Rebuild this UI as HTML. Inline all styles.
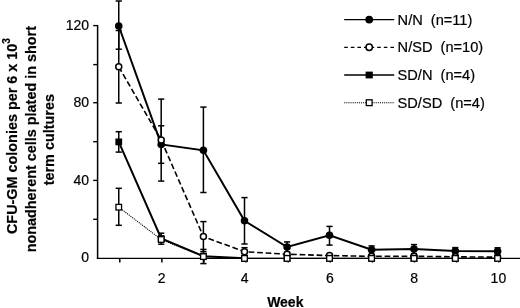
<!DOCTYPE html>
<html><head><meta charset="utf-8"><style>
html,body{margin:0;padding:0;background:#fff;}
body{width:520px;height:308px;overflow:hidden;}
svg{display:block;filter:grayscale(1);}
text{font-family:"Liberation Sans",sans-serif;fill:#000;stroke:#000;stroke-width:0.2px;}
</style></head><body>
<svg width="520" height="308" viewBox="0 0 520 308">
<rect width="520" height="308" fill="#fff"/>

<line x1="97.6" y1="25" x2="97.6" y2="258.95" stroke="#000" stroke-width="1.5"/>
<line x1="96.85" y1="258.3" x2="520" y2="258.3" stroke="#000" stroke-width="1.3"/>
<line x1="93.2" y1="25.6" x2="98" y2="25.6" stroke="#000" stroke-width="1.4"/>
<line x1="93.2" y1="64.6" x2="98" y2="64.6" stroke="#000" stroke-width="1.4"/>
<line x1="93.2" y1="102.7" x2="98" y2="102.7" stroke="#000" stroke-width="1.4"/>
<line x1="93.2" y1="141.7" x2="98" y2="141.7" stroke="#000" stroke-width="1.4"/>
<line x1="93.2" y1="180.4" x2="98" y2="180.4" stroke="#000" stroke-width="1.4"/>
<line x1="93.2" y1="219.3" x2="98" y2="219.3" stroke="#000" stroke-width="1.4"/>
<line x1="119.80" y1="258.3" x2="119.80" y2="262.5" stroke="#000" stroke-width="1.5"/>
<line x1="161.90" y1="258.3" x2="161.90" y2="262.5" stroke="#000" stroke-width="1.5"/>
<line x1="204.00" y1="258.3" x2="204.00" y2="262.5" stroke="#000" stroke-width="1.5"/>
<line x1="246.10" y1="258.3" x2="246.10" y2="262.5" stroke="#000" stroke-width="1.5"/>
<line x1="288.20" y1="258.3" x2="288.20" y2="262.5" stroke="#000" stroke-width="1.5"/>
<line x1="330.30" y1="258.3" x2="330.30" y2="262.5" stroke="#000" stroke-width="1.5"/>
<line x1="372.40" y1="258.3" x2="372.40" y2="262.5" stroke="#000" stroke-width="1.5"/>
<line x1="414.50" y1="258.3" x2="414.50" y2="262.5" stroke="#000" stroke-width="1.5"/>
<line x1="456.60" y1="258.3" x2="456.60" y2="262.5" stroke="#000" stroke-width="1.5"/>
<line x1="498.70" y1="258.3" x2="498.70" y2="262.5" stroke="#000" stroke-width="1.5"/>
<text x="89" y="30.2" font-size="14" text-anchor="end">120</text>
<text x="89" y="107.3" font-size="14" text-anchor="end">80</text>
<text x="89" y="185.0" font-size="14" text-anchor="end">40</text>
<text x="89" y="262.4" font-size="14" text-anchor="end">0</text>
<text x="161.60" y="282.8" font-size="14" text-anchor="middle">2</text>
<text x="244.70" y="282.8" font-size="14" text-anchor="middle">4</text>
<text x="330.00" y="282.8" font-size="14" text-anchor="middle">6</text>
<text x="414.20" y="282.8" font-size="14" text-anchor="middle">8</text>
<text x="498.40" y="282.8" font-size="14" text-anchor="middle">10</text>
<text x="285.3" y="307.3" font-size="14" font-weight="bold" text-anchor="middle">Week</text>
<text transform="translate(16.8,136.1) rotate(-90)" font-size="14.4" font-weight="bold" text-anchor="middle">CFU-GM colonies per 6 x 10<tspan font-size="10" dy="-6.4">3</tspan></text>
<text transform="translate(36.0,139.2) rotate(-90)" font-size="14.4" font-weight="bold" text-anchor="middle">nonadherent cells plated in short</text>
<text transform="translate(54.3,139.7) rotate(-90)" font-size="14.4" font-weight="bold" text-anchor="middle">term cultures</text>
<polyline points="118.75,207.20 161.20,239.50 203.40,256.60 244.50,258.40" fill="none" stroke="#000" stroke-width="1.1" stroke-dasharray="1.1 1"/>
<polyline points="118.75,66.80 161.20,140.10 203.40,236.60 244.50,251.70 287.10,254.20 329.50,255.60 371.60,256.30 414.00,256.30 455.30,256.80 497.60,257.20" fill="none" stroke="#000" stroke-width="1.6" stroke-dasharray="5.7 2.8"/>
<polyline points="118.75,141.90 161.20,238.50 203.40,256.20 244.50,258.30" fill="none" stroke="#000" stroke-width="2"/>
<line x1="244.50" y1="258.3" x2="497.60" y2="258.3" stroke="#000" stroke-width="1.0"/>
<polyline points="118.75,26.00 161.20,144.40 203.40,150.30 244.50,220.80 287.10,247.00 329.50,235.30 371.60,249.80 414.00,249.10 455.30,251.00 497.60,251.30" fill="none" stroke="#000" stroke-width="2"/>
<line x1="118.75" y1="1.00" x2="118.75" y2="49.20" stroke="#000" stroke-width="1.5"/><line x1="115.65" y1="1.00" x2="121.85" y2="1.00" stroke="#000" stroke-width="1.5"/><line x1="115.65" y1="49.20" x2="121.85" y2="49.20" stroke="#000" stroke-width="1.5"/>
<line x1="161.20" y1="125.80" x2="161.20" y2="163.30" stroke="#000" stroke-width="1.5"/><line x1="158.10" y1="125.80" x2="164.30" y2="125.80" stroke="#000" stroke-width="1.5"/><line x1="158.10" y1="163.30" x2="164.30" y2="163.30" stroke="#000" stroke-width="1.5"/>
<line x1="203.40" y1="107.10" x2="203.40" y2="192.50" stroke="#000" stroke-width="1.5"/><line x1="200.30" y1="107.10" x2="206.50" y2="107.10" stroke="#000" stroke-width="1.5"/><line x1="200.30" y1="192.50" x2="206.50" y2="192.50" stroke="#000" stroke-width="1.5"/>
<line x1="244.50" y1="197.60" x2="244.50" y2="244.00" stroke="#000" stroke-width="1.5"/><line x1="241.40" y1="197.60" x2="247.60" y2="197.60" stroke="#000" stroke-width="1.5"/><line x1="241.40" y1="244.00" x2="247.60" y2="244.00" stroke="#000" stroke-width="1.5"/>
<line x1="287.10" y1="241.90" x2="287.10" y2="252.10" stroke="#000" stroke-width="1.5"/><line x1="284.00" y1="241.90" x2="290.20" y2="241.90" stroke="#000" stroke-width="1.5"/><line x1="284.00" y1="252.10" x2="290.20" y2="252.10" stroke="#000" stroke-width="1.5"/>
<line x1="329.50" y1="226.40" x2="329.50" y2="245.10" stroke="#000" stroke-width="1.5"/><line x1="326.40" y1="226.40" x2="332.60" y2="226.40" stroke="#000" stroke-width="1.5"/><line x1="326.40" y1="245.10" x2="332.60" y2="245.10" stroke="#000" stroke-width="1.5"/>
<line x1="371.60" y1="245.90" x2="371.60" y2="254.80" stroke="#000" stroke-width="1.5"/><line x1="368.50" y1="245.90" x2="374.70" y2="245.90" stroke="#000" stroke-width="1.5"/><line x1="368.50" y1="254.80" x2="374.70" y2="254.80" stroke="#000" stroke-width="1.5"/>
<line x1="414.00" y1="244.60" x2="414.00" y2="253.60" stroke="#000" stroke-width="1.5"/><line x1="410.90" y1="244.60" x2="417.10" y2="244.60" stroke="#000" stroke-width="1.5"/><line x1="410.90" y1="253.60" x2="417.10" y2="253.60" stroke="#000" stroke-width="1.5"/>
<line x1="455.30" y1="247.60" x2="455.30" y2="254.60" stroke="#000" stroke-width="1.5"/><line x1="452.20" y1="247.60" x2="458.40" y2="247.60" stroke="#000" stroke-width="1.5"/><line x1="452.20" y1="254.60" x2="458.40" y2="254.60" stroke="#000" stroke-width="1.5"/>
<line x1="497.60" y1="247.80" x2="497.60" y2="255.00" stroke="#000" stroke-width="1.5"/><line x1="494.50" y1="247.80" x2="500.70" y2="247.80" stroke="#000" stroke-width="1.5"/><line x1="494.50" y1="255.00" x2="500.70" y2="255.00" stroke="#000" stroke-width="1.5"/>
<line x1="118.75" y1="30.50" x2="118.75" y2="103.00" stroke="#000" stroke-width="1.5"/><line x1="115.65" y1="30.50" x2="121.85" y2="30.50" stroke="#000" stroke-width="1.5"/><line x1="115.65" y1="103.00" x2="121.85" y2="103.00" stroke="#000" stroke-width="1.5"/>
<line x1="161.20" y1="99.10" x2="161.20" y2="181.10" stroke="#000" stroke-width="1.5"/><line x1="158.10" y1="99.10" x2="164.30" y2="99.10" stroke="#000" stroke-width="1.5"/><line x1="158.10" y1="181.10" x2="164.30" y2="181.10" stroke="#000" stroke-width="1.5"/>
<line x1="203.40" y1="221.60" x2="203.40" y2="251.60" stroke="#000" stroke-width="1.5"/><line x1="200.30" y1="221.60" x2="206.50" y2="221.60" stroke="#000" stroke-width="1.5"/><line x1="200.30" y1="251.60" x2="206.50" y2="251.60" stroke="#000" stroke-width="1.5"/>
<line x1="244.50" y1="247.70" x2="244.50" y2="255.70" stroke="#000" stroke-width="1.5"/><line x1="241.40" y1="247.70" x2="247.60" y2="247.70" stroke="#000" stroke-width="1.5"/><line x1="241.40" y1="255.70" x2="247.60" y2="255.70" stroke="#000" stroke-width="1.5"/>
<line x1="118.75" y1="131.70" x2="118.75" y2="152.10" stroke="#000" stroke-width="1.5"/><line x1="115.65" y1="131.70" x2="121.85" y2="131.70" stroke="#000" stroke-width="1.5"/><line x1="115.65" y1="152.10" x2="121.85" y2="152.10" stroke="#000" stroke-width="1.5"/>
<line x1="161.20" y1="233.20" x2="161.20" y2="244.20" stroke="#000" stroke-width="1.5"/><line x1="158.10" y1="233.20" x2="164.30" y2="233.20" stroke="#000" stroke-width="1.5"/><line x1="158.10" y1="244.20" x2="164.30" y2="244.20" stroke="#000" stroke-width="1.5"/>
<line x1="118.75" y1="188.30" x2="118.75" y2="225.30" stroke="#000" stroke-width="1.5"/><line x1="115.65" y1="188.30" x2="121.85" y2="188.30" stroke="#000" stroke-width="1.5"/><line x1="115.65" y1="225.30" x2="121.85" y2="225.30" stroke="#000" stroke-width="1.5"/>
<line x1="203.40" y1="249.40" x2="203.40" y2="263.60" stroke="#000" stroke-width="1.5"/><line x1="200.30" y1="249.40" x2="206.50" y2="249.40" stroke="#000" stroke-width="1.5"/><line x1="200.30" y1="263.60" x2="206.50" y2="263.60" stroke="#000" stroke-width="1.5"/>
<circle cx="118.75" cy="26.00" r="3.8" fill="#000"/>
<circle cx="161.20" cy="144.40" r="3.8" fill="#000"/>
<circle cx="203.40" cy="150.30" r="3.8" fill="#000"/>
<circle cx="244.50" cy="220.80" r="3.8" fill="#000"/>
<circle cx="287.10" cy="247.00" r="3.8" fill="#000"/>
<circle cx="329.50" cy="235.30" r="3.8" fill="#000"/>
<circle cx="371.60" cy="249.80" r="3.8" fill="#000"/>
<circle cx="414.00" cy="249.10" r="3.8" fill="#000"/>
<circle cx="455.30" cy="251.00" r="3.8" fill="#000"/>
<circle cx="497.60" cy="251.30" r="3.8" fill="#000"/>
<circle cx="118.75" cy="66.80" r="3.0" fill="#fff" stroke="#000" stroke-width="1.5"/>
<circle cx="161.20" cy="140.10" r="3.0" fill="#fff" stroke="#000" stroke-width="1.5"/>
<circle cx="203.40" cy="236.60" r="3.0" fill="#fff" stroke="#000" stroke-width="1.5"/>
<circle cx="244.50" cy="251.70" r="3.0" fill="#fff" stroke="#000" stroke-width="1.5"/>
<circle cx="287.10" cy="254.20" r="3.0" fill="#fff" stroke="#000" stroke-width="1.5"/>
<circle cx="329.50" cy="255.60" r="3.0" fill="#fff" stroke="#000" stroke-width="1.5"/>
<circle cx="371.60" cy="256.30" r="3.0" fill="#fff" stroke="#000" stroke-width="1.5"/>
<circle cx="414.00" cy="256.30" r="3.0" fill="#fff" stroke="#000" stroke-width="1.5"/>
<circle cx="455.30" cy="256.80" r="3.0" fill="#fff" stroke="#000" stroke-width="1.5"/>
<circle cx="497.60" cy="257.20" r="3.0" fill="#fff" stroke="#000" stroke-width="1.5"/>
<rect x="115.35" y="138.50" width="6.8" height="6.8" fill="#000"/>
<rect x="157.80" y="235.10" width="6.8" height="6.8" fill="#000"/>
<rect x="200.00" y="252.80" width="6.8" height="6.8" fill="#000"/>
<rect x="241.10" y="254.90" width="6.8" height="6.8" fill="#000"/>
<rect x="283.70" y="254.90" width="6.8" height="6.8" fill="#000"/>
<rect x="326.10" y="254.90" width="6.8" height="6.8" fill="#000"/>
<rect x="368.20" y="254.90" width="6.8" height="6.8" fill="#000"/>
<rect x="410.60" y="254.90" width="6.8" height="6.8" fill="#000"/>
<rect x="451.90" y="254.90" width="6.8" height="6.8" fill="#000"/>
<rect x="494.20" y="254.90" width="6.8" height="6.8" fill="#000"/>
<rect x="115.95" y="204.40" width="5.6" height="5.6" fill="#fff" stroke="#000" stroke-width="1.3"/>
<rect x="158.40" y="236.70" width="5.6" height="5.6" fill="#fff" stroke="#000" stroke-width="1.3"/>
<rect x="200.60" y="253.80" width="5.6" height="5.6" fill="#fff" stroke="#000" stroke-width="1.3"/>
<rect x="241.70" y="255.60" width="5.6" height="5.6" fill="#fff" stroke="#000" stroke-width="1.3"/>
<rect x="284.30" y="255.60" width="5.6" height="5.6" fill="#fff" stroke="#000" stroke-width="1.3"/>
<rect x="326.70" y="255.60" width="5.6" height="5.6" fill="#fff" stroke="#000" stroke-width="1.3"/>
<rect x="368.80" y="255.60" width="5.6" height="5.6" fill="#fff" stroke="#000" stroke-width="1.3"/>
<rect x="411.20" y="255.60" width="5.6" height="5.6" fill="#fff" stroke="#000" stroke-width="1.3"/>
<rect x="452.50" y="255.60" width="5.6" height="5.6" fill="#fff" stroke="#000" stroke-width="1.3"/>
<rect x="494.80" y="255.60" width="5.6" height="5.6" fill="#fff" stroke="#000" stroke-width="1.3"/>
<line x1="344.2" y1="19.6" x2="394.2" y2="19.6" stroke="#000" stroke-width="1.4"/>
<circle cx="369.2" cy="19.6" r="3.9" fill="#000"/>
<text x="397.6" y="24.6" font-size="14.6" xml:space="preserve">N/N  (n=11)</text>
<line x1="344.2" y1="47.3" x2="394.2" y2="47.3" stroke="#000" stroke-width="1.3" stroke-dasharray="3.6 3"/>
<circle cx="369.2" cy="47.3" r="3.2" fill="#fff" stroke="#000" stroke-width="1.5"/>
<text x="397.6" y="52.3" font-size="14.6" xml:space="preserve">N/SD  (n=10)</text>
<line x1="344.2" y1="75.0" x2="394.2" y2="75.0" stroke="#000" stroke-width="1.4"/>
<rect x="365.59999999999997" y="71.6" width="7.2" height="6.8" fill="#000"/>
<text x="397.6" y="80.0" font-size="14.6" xml:space="preserve">SD/N  (n=4)</text>
<line x1="344.2" y1="102.69999999999999" x2="394.2" y2="102.69999999999999" stroke="#000" stroke-width="1.1" stroke-dasharray="1.1 1"/>
<rect x="366.3" y="99.79999999999998" width="5.8" height="5.8" fill="#fff" stroke="#000" stroke-width="1.3"/>
<text x="397.6" y="107.7" font-size="14.6" xml:space="preserve">SD/SD  (n=4)</text>
</svg>
</body></html>
